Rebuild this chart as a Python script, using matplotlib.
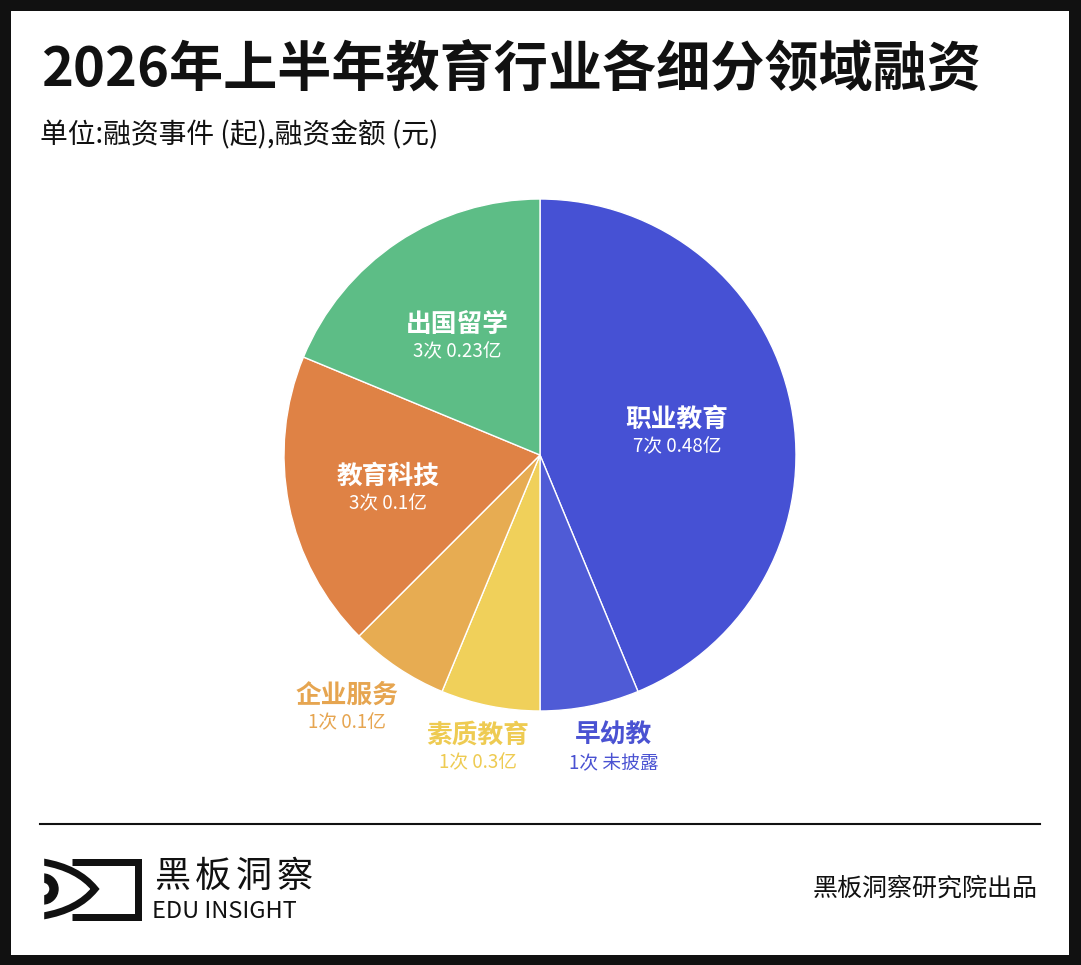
import matplotlib
matplotlib.use("Agg")
import matplotlib.pyplot as plt
from matplotlib.patches import Wedge, PathPatch
from matplotlib.path import Path

plt.rcParams['font.family'] = ['Noto Sans CJK SC', 'DejaVu Sans']

# data
sectors = ['职业教育', '早幼教', '素质教育', '企业服务', '教育科技', '出国留学']
deals = [7, 1, 1, 1, 3, 3]
amounts = ['0.48亿', '未披露', '0.3亿', '0.1亿', '0.1亿', '0.23亿']
colors = ['#4651D4', '#4F5BD6', '#F0D05A', '#E7AC52', '#DF8245', '#5DBD86']
label_colors = ['white', '#4A52D2', '#EECB52', '#E6A550', 'white', 'white']
# label centres in pixels (x, y of the name line)
label_pos = [(677, 419), (614, 735), (478, 735), (347, 695), (388, 476), (457, 324)]

W, H = 1081, 965
fig = plt.figure(figsize=(W / 100, H / 100), dpi=100, facecolor='#111111')

# white page inside black frame, pixel coordinates
bg = fig.add_axes([11 / W, 10 / H, (W - 23) / W, (H - 21) / H])
bg.set_xlim(11, W - 12)
bg.set_ylim(H - 10, 11)
bg.set_facecolor('white')
bg.axis('off')
bg.add_patch(plt.Rectangle((11, 11), W - 23, H - 21, color='white', zorder=0))

bg.text(41, 70, '2026年上半年教育行业各细分领域融资', fontsize=39, fontweight='black',
        va='center', ha='left', color='#111111')
bg.text(40, 135, '单位:融资事件 (起),融资金额 (元)', fontsize=20, va='center', ha='left',
        color='#111111')

# pie
cx, cy, r = 540, 455, 256
pax = fig.add_axes([(cx - r) / W, (H - cy - r) / H, 2 * r / W, 2 * r / H])
pax.pie(deals, colors=colors, startangle=90, counterclock=False, radius=1,
        wedgeprops=dict(edgecolor='white', linewidth=1))
pax.set_xlim(-1, 1)
pax.set_ylim(-1, 1)
pax.set_aspect('equal')
pax.axis('off')

for name, n, amt, col, (x, y) in zip(sectors, deals, amounts, label_colors, label_pos):
    pax.text(x, y, name, fontsize=18.5, fontweight='bold', color=col, ha='center',
             va='center', transform=bg.transData, clip_on=False)
    pax.text(x, y + 28, f'{n}次 {amt}', fontsize=13.5, color=col, ha='center',
             va='center', transform=bg.transData, clip_on=False)

# footer
bg.plot([40, 1040], [824, 824], color='#111111', lw=1.5)
bg.text(1038, 889, '黑板洞察研究院出品', fontsize=18, ha='right', va='center', color='#111111')

# logo
lw_px = 7 * 0.72
bg.plot([72, 137.5, 137.5, 72], [861.5, 861.5, 916.5, 916.5], color='#111111', lw=lw_px,
        solid_joinstyle='miter', solid_capstyle='butt')
eye = Path([(43, 862), (78, 868), (95, 889), (78, 910), (43, 916)],
           [Path.MOVETO, Path.CURVE3, Path.CURVE3, Path.CURVE3, Path.CURVE3])
bg.add_patch(PathPatch(eye, fill=False, lw=lw_px, color='#111111', capstyle='butt'))
bg.add_patch(Wedge((43, 889), 15, -90, 90, width=8, color='#111111'))
bg.add_patch(plt.Rectangle((36, 850), 7, 75, color='white', zorder=5))

for i, ch in enumerate('黑板洞察'):
    bg.text(172 + i * 41, 877, ch, fontsize=26, ha='center', va='center', color='#111111')
bg.text(152, 911, 'EDU INSIGHT', fontsize=17, fontweight='medium', ha='left', va='center',
        color='#111111')

fig.savefig('out.png', dpi=100, facecolor=fig.get_facecolor())
